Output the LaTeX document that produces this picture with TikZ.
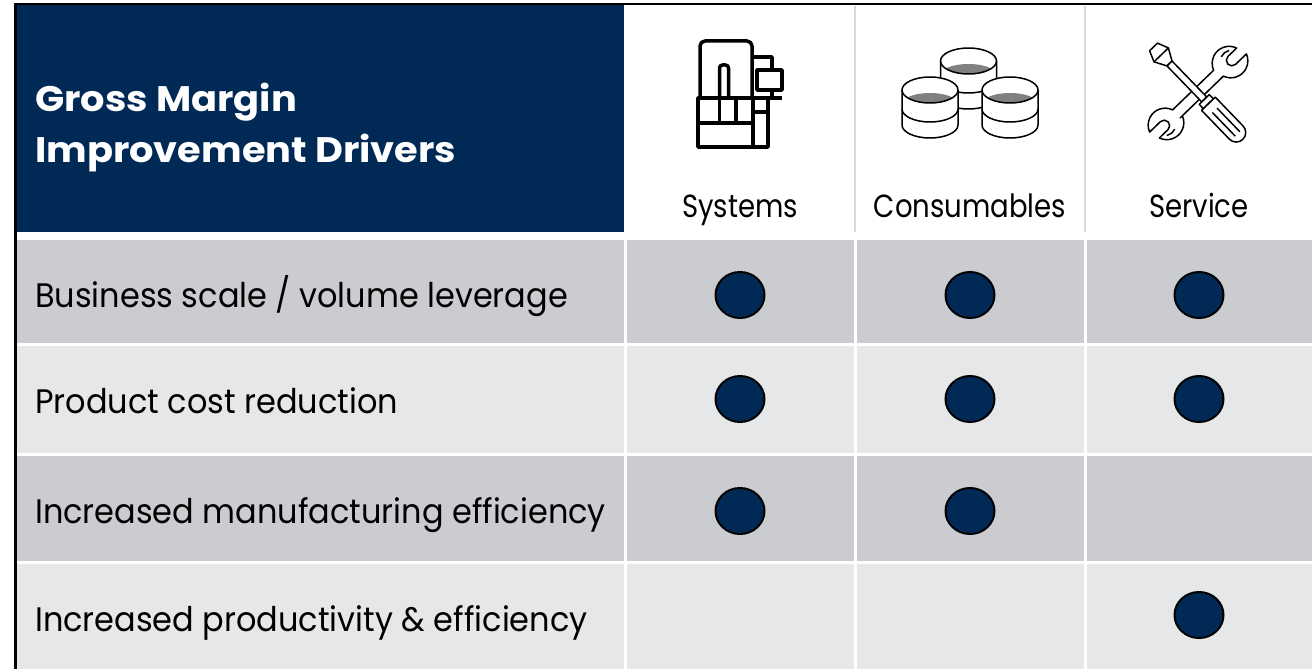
\documentclass[tikz,border=0pt]{standalone}
\usepackage{fontspec}
\newfontfamily\popbody{Poppins}[FakeStretch=0.94]
\newfontfamily\pophead{Poppins}[FakeStretch=0.86]
\newfontfamily\poptitle{Poppins}[FakeStretch=1.08]
\usetikzlibrary{shapes.geometric}
\definecolor{navy}{RGB}{0,42,85}
\definecolor{rowdark}{RGB}{203,204,208}
\definecolor{rowlight}{RGB}{230,231,233}
\definecolor{sepgray}{RGB}{218,218,218}
\definecolor{liquid}{RGB}{128,128,128}
\tikzset{
  dot/.style={ellipse, draw=black, line width=2pt, fill=navy, minimum width=49pt, minimum height=46pt, inner sep=0pt},
  rowlabel/.style={anchor=base west, inner sep=0pt, text=black, font=\popbody\fontsize{34}{40}\selectfont},
  colhead/.style={anchor=base, inner sep=0pt, text=black, font=\pophead\fontsize{32}{40}\selectfont},
  titletext/.style={anchor=base west, inner sep=0pt, text=white, font=\poptitle\bfseries\fontsize{35.5}{40}\selectfont},
  thickicon/.style={draw=black, line width=3.5pt, line join=round},
  thinicon/.style={draw=black, line width=1.5pt, line join=round},
  bowl/.pic={
    \fill[white] (-28,0) -- (-28,-35) arc[start angle=180,end angle=360,x radius=28,y radius=13] -- (28,0) arc[start angle=0,end angle=180,x radius=28,y radius=13] -- cycle;
    \draw[thinicon] (-28,0) -- (-28,-35) arc[start angle=180,end angle=360,x radius=28,y radius=13] -- (28,0);
    \draw[thinicon] (-28,-19) arc[start angle=180,end angle=360,x radius=28,y radius=13];
    \begin{scope}
      \clip (0,0) ellipse[x radius=28,y radius=13];
      \fill[liquid] (0,-13) ellipse[x radius=27,y radius=10];
    \end{scope}
    \draw[thinicon] (0,0) ellipse[x radius=28,y radius=13];
  }
}
\begin{document}
\begin{tikzpicture}[x=1pt,y=1pt]
\useasboundingbox (0,0) rectangle (1312,-669);
\fill[white] (0,0) rectangle (1312,-669);
% header
\fill[navy] (17,-5) rectangle (624,-232);
\draw[sepgray, line width=2pt] (855,-6) -- (855,-232);
\draw[sepgray, line width=2pt] (1085,-6) -- (1085,-232);
% rows
\foreach \top/\bot/\col in {240/343/rowdark, 346/453/rowlight, 456/561/rowdark, 564/669/rowlight}{
  \fill[\col] (17,-\top) rectangle (624,-\bot);
  \fill[\col] (627,-\top) rectangle (854,-\bot);
  \fill[\col] (857,-\top) rectangle (1084,-\bot);
  \fill[\col] (1087,-\top) rectangle (1312,-\bot);
}
% frame
\draw[black, line width=2.5pt] (15.5,-669) -- (15.5,-4) -- (1312,-4);
% title
\node[titletext] (title1) at (35,-111) {Gross Margin};
\node[titletext] (title2) at (35,-162) {Improvement Drivers};
% column heads
\node[colhead] (hsys) at (740,-217) {Systems};
\node[colhead] (hcons) at (970,-217) {Consumables};
\node[colhead] (hserv) at (1199,-217) {Service};
% row labels
\node[rowlabel] (r1) at (35,-307) {Business scale / volume leverage};
\node[rowlabel] (r2) at (35,-413) {Product cost reduction};
\node[rowlabel] (r3) at (35,-523) {Increased manufacturing efficiency};
\node[rowlabel] (r4) at (35,-631) {Increased productivity \& efficiency};
% dots
\node[dot] (d11) at (740,-295) {};
\node[dot] (d12) at (970,-295) {};
\node[dot] (d13) at (1199,-295) {};
\node[dot] (d21) at (740,-399) {};
\node[dot] (d22) at (970,-399) {};
\node[dot] (d23) at (1199,-399) {};
\node[dot] (d31) at (740,-511) {};
\node[dot] (d32) at (970,-511) {};
\node[dot] (d43) at (1199,-615) {};
% systems icon
\draw[thickicon, rounded corners=5pt] (700,-98) -- (700,-41) -- (752,-41) -- (752,-98);
\draw[thickicon, rounded corners=3pt] (719.5,-98) -- (719.5,-65) -- (728.5,-65) -- (728.5,-98);
\draw[thickicon] (698,-98) rectangle (768,-147);
\draw[thickicon] (698,-98) -- (782,-98);
\draw[thickicon] (719.5,-98) -- (719.5,-123);
\draw[thickicon] (736,-98) -- (736,-123);
\draw[thickicon] (698,-123) -- (753,-123);
\draw[thickicon] (753,-98) -- (753,-147);
\draw[thickicon] (753,-112) -- (768,-112);
\draw[thickicon] (757,-70) rectangle (782,-90);
\draw[thickicon] (752,-57) -- (772,-57) -- (772,-70);
\draw[thickicon] (772,-90) -- (772,-98);
% consumables icon
\pic at (968.5,-61) {bowl};
\pic at (930,-90) {bowl};
\pic at (1010,-90) {bowl};
% service icon
\begin{scope}[shift={(1198,-93)}, rotate=-46]
  \draw[thinicon, fill=white] (5.5,-30) -- (5.5,30) arc[start angle=-70,end angle=70,radius=17]
    -- (5.5,47) arc[start angle=0,end angle=-180,radius=5.5]
    -- (-5.5,59) arc[start angle=110,end angle=250,radius=17]
    -- (-5.5,-30) arc[start angle=110,end angle=250,radius=17]
    -- (-5.5,-47) arc[start angle=180,end angle=0,radius=5.5]
    -- (5.5,-59) arc[start angle=-70,end angle=70,radius=17] -- cycle;
  \draw[thinicon] (-9,52) arc[start angle=150,end angle=200,radius=12];
  \draw[thinicon] (9,-52) arc[start angle=-30,end angle=20,radius=12];
  \draw[thinicon, fill=white] (-64,5.5) -- (-53,10) -- (-41,3.5) -- (-41,-3.5) -- (-53,-10) -- (-64,-5.5) -- cycle;
  \draw[thinicon] (-53,10) -- (-53,-10);
  \draw[thinicon, fill=white] (-41,-3.5) rectangle (9,3.5);
  \draw[thinicon, fill=white] (9,-7) rectangle (15,7);
  \draw[thinicon, fill=white] (15,-9.5) -- (55,-9.5) arc[start angle=-90,end angle=90,radius=9.5] -- (15,9.5) -- cycle;
  \draw[thinicon] (24,-3.2) -- (57,-3.2);
  \draw[thinicon] (24,3.2) -- (57,3.2);
\end{scope}
\end{tikzpicture}
\end{document}
